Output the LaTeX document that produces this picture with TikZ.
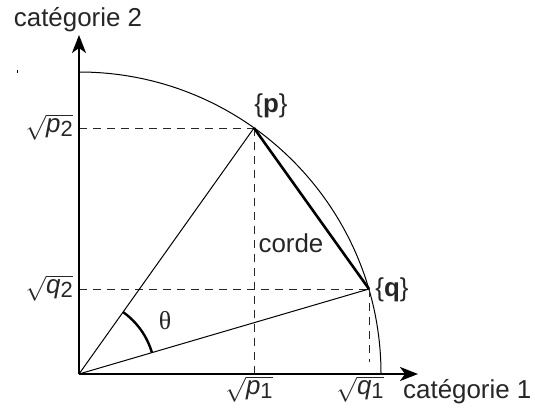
\documentclass[tikz,border=0pt]{standalone}
\usepackage{fontspec}
\setmainfont{Liberation Sans}
\newfontfamily\grk{Liberation Serif}
\usetikzlibrary{arrows.meta}
\newcommand{\rlab}[2]{$\sqrt{\mbox{\textit{#1}\raisebox{-.3ex}{\fontsize{22}{24}\selectfont #2}}}$}
\tikzset{
  axis/.style={line width=2.4bp,-{Stealth[length=18bp,width=14bp,inset=5bp]}},
  thin/.style={line width=1bp},
  dashline/.style={line width=1bp,dash pattern=on 8bp off 6bp,color=black!85},
  lab/.style={font=\fontsize{26}{30}\selectfont,inner sep=0pt,text=black!85}
}
\begin{document}
\begin{tikzpicture}[x=1bp,y=1bp]
\useasboundingbox (0,0) rectangle (535,408);
\coordinate (O) at (79,34);
\coordinate (P) at (254,280);
\coordinate (Q) at (369,119);
\coordinate (Xend) at (418,34);
\coordinate (Yend) at (79,373);
% arc
\draw[thin] (O) ++(302bp,0) arc[start angle=0,end angle=90,radius=302bp];
% dashed projections
\draw[dashline] (O|-P) -- (P);
\draw[dashline] (P) -- (P|-O);
\draw[dashline] (O|-Q) -- (Q);
\draw[dashline] (Q) -- ([yshift=12bp]Q|-O);
% radii
\draw[thin] (O) -- (P);
\draw[thin] (O) -- (Q);
% chord
\draw[line width=2.6bp] (P) -- (Q);
% angle
\draw[line width=2.4bp] (O) ++(16.3:76bp) arc[start angle=16.3,end angle=54.6,radius=76bp];
% axes
\draw[axis] (O) -- (Xend);
\draw[axis] (O) -- (Yend);
% stray tick
\draw[line width=1bp] (17,335) -- (17,338);
% labels
\node[lab] (c2) at (78,388) {catégorie 2};
\node[lab,anchor=west] (c1) at (403,16) {catégorie 1};
\node[lab,anchor=east] (lp2) at (73,281) {\rlab{p}{2}};
\node[lab,anchor=east] (lq2) at (73,120) {\rlab{q}{2}};
\node[lab,anchor=north] (lp1) at (249,32) {\rlab{p}{1}};
\node[lab,anchor=north] (lq1) at (360,32) {\rlab{q}{1}};
\node[lab] (lp) at (271,302) {\{\textbf{p}\}};
\node[lab] (lq) at (392,118) {\{\textbf{q}\}};
\node[lab] (corde) at (291,165) {corde};
\node[lab] (th) at (165,87) {\grk θ};
\end{tikzpicture}
\end{document}
